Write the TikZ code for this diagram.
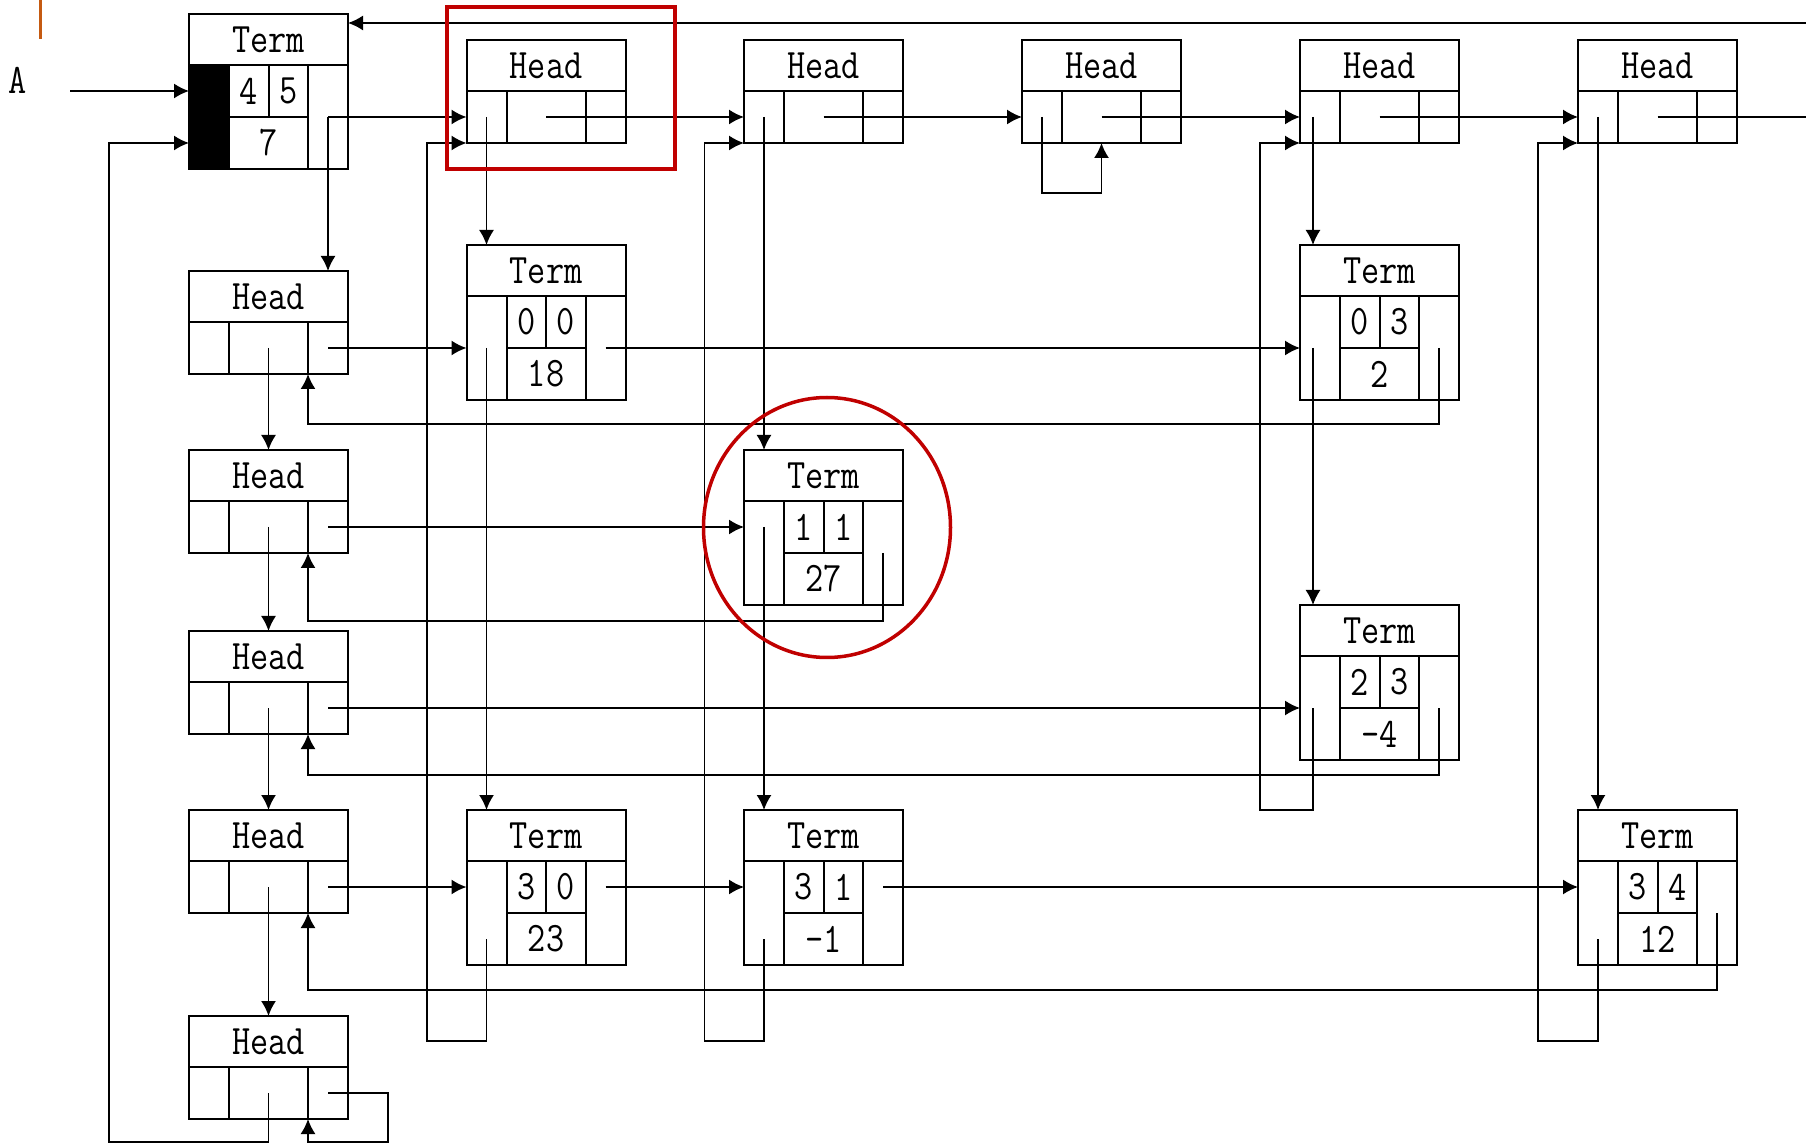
\documentclass[tikz,border=0pt]{standalone}
\usepackage{graphicx}
\usepackage{tikz}
\usetikzlibrary{arrows.meta,calc}
\definecolor{markred}{HTML}{C00000}
\definecolor{tickorange}{HTML}{C55A11}
\newcommand{\boxtext}[1]{\scalebox{0.84}[1]{#1}}
\tikzset{
  cell/.style={draw, line width=1pt, inner sep=0pt, outer sep=0pt,
               font=\fontsize{21}{25}\selectfont\ttfamily},
  arr/.style={-{Latex[length=7.5pt,width=7.5pt]}, line width=0.8pt},
  wire/.style={line width=0.8pt},
  redmark/.style={draw=markred, line width=2pt},
  pics/headbox/.style={code={
    \node[cell, minimum width=79.5pt, minimum height=25.5pt] (-t) at (79.5,25.5) {\boxtext{Head}};
    \node[cell, minimum width=20pt, minimum height=26pt] (-a) at (20,77) {};
    \node[cell, minimum width=39.5pt, minimum height=26pt] (-b) at (79.5,77) {};
    \node[cell, minimum width=20pt, minimum height=26pt] (-c) at (139,77) {};
  }},
  pics/termbox/.style n args={3}{code={
    \node[cell, minimum width=79.5pt, minimum height=25.5pt] (-t) at (79.5,25.5) {\boxtext{Term}};
    \node[cell, minimum width=20pt, minimum height=52pt] (-a) at (20,103) {};
    \node[cell, minimum width=19.75pt, minimum height=26pt] (-i) at (59.75,77) {\boxtext{#1}};
    \node[cell, minimum width=19.75pt, minimum height=26pt] (-j) at (99.25,77) {\boxtext{#2}};
    \node[cell, minimum width=39.5pt, minimum height=26pt] (-v) at (79.5,129) {\boxtext{#3}};
    \node[cell, minimum width=20pt, minimum height=52pt] (-c) at (139,103) {};
  }},
}

\begin{document}
\begin{tikzpicture}[x=0.5pt, y=-0.5pt]
    \useasboundingbox (0,0) rectangle (1806,1144);
    \draw[line width=1.5pt, draw=tickorange] (40,0) -- (40,39);
    % head of the whole matrix
    \node[font=\fontsize{21}{25}\selectfont\ttfamily] (lblA) at (18,80) {\boxtext{A}};
    \pic (tA) at (189,14) {termbox={4}{5}{7}};
    \fill (tA-a.north west) rectangle (tA-a.south east);
    % column heads
    \pic (h1) at (466.5,40) {headbox};
    \pic (h2) at (744,40) {headbox};
    \pic (h3) at (1022,40) {headbox};
    \pic (h4) at (1300,40) {headbox};
    \pic (h5) at (1578,40) {headbox};
    % row heads
    \pic (r1) at (189,271) {headbox};
    \pic (r2) at (189,450) {headbox};
    \pic (r3) at (189,631) {headbox};
    \pic (r4) at (189,810) {headbox};
    \pic (r5) at (189,1016) {headbox};
    % terms
    \pic (t00) at (466.5,245) {termbox={0}{0}{18}};
    \pic (t03) at (1300,245) {termbox={0}{3}{2}};
    \pic (t11) at (744,450) {termbox={1}{1}{27}};
    \pic (t23) at (1300,605) {termbox={2}{3}{-4}};
    \pic (t30) at (466.5,810) {termbox={3}{0}{23}};
    \pic (t31) at (744,810) {termbox={3}{1}{-1}};
    \pic (t34) at (1578,810) {termbox={3}{4}{12}};

    \coordinate (Ain) at (70,91);
    \coordinate (rEdge) at (1806,117);
    \coordinate (topIn) at (1806,23);
    \coordinate (tAin) at (tA-v.center -| tA-a.west);
    \coordinate (h4down) at ([xshift=-3.5pt]h4-a.center);

    % top row
    \draw[arr] (Ain) -- (Ain -| tA-a.west);
    \draw[arr] (tA-c.center) -- (h1-a.west);
    \draw[arr] (tA-c.center) -- (tA-c.center |- r1-t.north);
    \foreach \p/\q in {h1/h2,h2/h3,h3/h4,h4/h5}
      \draw[arr] (\p-b.center) -- (\q-a.west);
    \draw[wire] (h5-b.center) -- (rEdge);
    \draw[arr] (topIn) -- (topIn -| tA-t.east);

    % columns
    \draw[arr] (h1-a.center) -- (h1-a.center |- t00-t.north);
    \draw[arr] (t00-a.center) -- (t00-a.center |- t30-t.north);
    \draw[arr] (t30-a.center |- t30-v.center) -- ++(0,102) -| ([xshift=-19.75pt]h1-a.south west) -- (h1-a.south west);
    \draw[arr] (h2-a.center) -- (h2-a.center |- t11-t.north);
    \draw[arr] (t11-a.center |- t11-i.center) -- (t11-a.center |- t31-t.north);
    \draw[arr] (t31-a.center |- t31-v.center) -- ++(0,102) -| ([xshift=-19.75pt]h2-a.south west) -- (h2-a.south west);
    \draw[arr] (h3-a.center) -- ++(0,76) -| (h3-b.south);
    \draw[arr] (h4down) -- (h4down |- t03-t.north);
    \draw[arr] (h4down |- t03-a.center) -- (h4down |- t23-t.north);
    \draw[arr] (h4down |- t23-a.center) -- ++(0,102) -| ([xshift=-20pt]h4-a.south west) -- (h4-a.south west);
    \draw[arr] (h5-a.center) -- (h5-a.center |- t34-t.north);
    \draw[arr] (t34-a.center |- t34-v.center) -- ++(0,102) -| ([xshift=-20pt]h5-a.south west) -- (h5-a.south west);

    % rows
    \foreach \p/\q in {r1/r2,r2/r3,r3/r4,r4/r5}
      \draw[arr] (\p-b.center) -- (\p-b.center |- \q-t.north);
    \draw[arr] (r5-b.center) -- ++(0,49) -| ([xshift=-40pt]tAin) -- (tAin);
    \draw[arr] (r1-c.center) -- (t00-a.west);
    \draw[arr] (t00-c.center) -- (t03-a.west);
    \draw[arr] (t03-c.center) -- ++(0,76) -| (r1-b.south east);
    \draw[arr] (r2-c.center) -- (r2-c.center -| t11-a.west);
    \draw[arr] (t11-c.center) -- ++(0,68) -| (r2-b.south east);
    \draw[arr] (r3-c.center) -- (t23-a.west);
    \draw[arr] (t23-c.center) -- ++(0,67) -| (r3-b.south east);
    \draw[arr] (r4-c.center) -- (r4-c.center -| t30-a.west);
    \draw[arr] (t30-c.center |- t30-i.center) -- (t30-i.center -| t31-a.west);
    \draw[arr] (t31-c.center |- t31-i.center) -- (t31-i.center -| t34-a.west);
    \draw[arr] (t34-c.center) -- ++(0,77) -| (r4-b.south east);
    \draw[arr] (r5-c.center) -- ++(60,0) -- ++(0,49) -| (r5-b.south east);

    % highlights
    \draw[redmark] ([shift={(-20,-33)}]h1-t.north west) rectangle ([shift={(49,26)}]h1-c.south east);
    \draw[redmark, line width=1.75pt] ($(t11-t.north)!0.5!(t11-v.south)$) ++(3.5,0) ellipse [x radius=61.75pt, y radius=65pt];
  \end{tikzpicture}
\end{document}
